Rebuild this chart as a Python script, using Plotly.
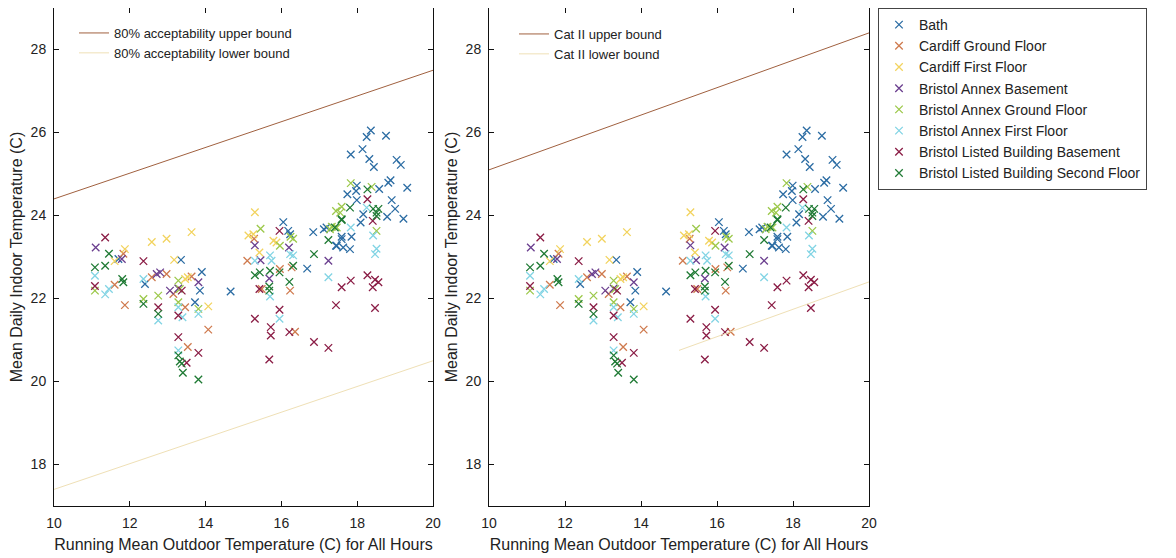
import plotly.graph_objects as go

# ---------------- data ----------------
series_names = [
    "Bath", "Cardiff Ground Floor", "Cardiff First Floor", "Bristol Annex Basement",
    "Bristol Annex Ground Floor", "Bristol Annex First Floor",
    "Bristol Listed Building Basement", "Bristol Listed Building Second Floor",
]
series_colors = ["#2b6ca3", "#cf7a4e", "#f2d35e", "#6b3f8f",
                 "#9cc84a", "#82d4e4", "#8a1c45", "#1f7a34"]

bath_x = [11.7, 13.35, 13.9, 13.85, 12.4, 13.72, 14.66, 16.05, 16.18, 16.23, 16.68, 16.84,
          17.12, 17.19, 17.46, 17.59, 17.63, 18.36, 18.25, 18.76, 18.14, 17.83, 18.32, 18.44,
          19.04, 19.15, 18.88, 18.82, 19.32, 18.58, 17.99, 17.74, 17.97, 17.99, 18.91, 19.0,
          18.16, 18.79, 19.22, 18.09, 17.59, 17.85, 17.44, 17.81]
bath_y = [22.95, 22.93, 22.64, 22.19, 22.35, 21.91, 22.17, 23.84, 23.63, 23.55, 22.72, 23.6,
          23.67, 23.71, 23.27, 23.43, 23.23, 26.05, 25.89, 25.92, 25.6, 25.47, 25.36, 25.17,
          25.34, 25.22, 24.85, 24.79, 24.67, 24.64, 24.72, 24.51, 24.59, 24.37, 24.37, 24.16,
          24.03, 23.97, 23.92, 23.83, 23.49, 23.49, 23.27, 23.19]

cardiff_gf_x = [11.83, 11.6, 11.87, 12.58, 12.97, 13.15, 13.46, 13.63, 14.07, 13.53,
                15.28, 15.1, 15.96, 16.27, 16.23, 16.36, 15.48]
cardiff_gf_y = [23.08, 22.33, 21.84, 22.51, 22.59, 22.11, 21.79, 22.53, 21.25, 20.83,
                23.44, 22.91, 22.71, 22.75, 22.19, 21.2, 22.23]

cardiff_ff_x = [11.87, 12.58, 12.97, 13.63, 13.17, 13.46, 13.53, 14.07, 15.3, 15.13,
                15.26, 15.79, 15.87, 15.42, 11.6]
cardiff_ff_y = [23.19, 23.36, 23.44, 23.6, 22.93, 22.47, 22.51, 21.81, 24.08, 23.52,
                23.55, 23.39, 23.35, 23.11, 22.9]

annex_b_x = [11.1, 11.79, 12.8, 13.06, 13.28, 13.81, 15.3, 15.45, 15.68, 16.2, 17.24, 12.71]
annex_b_y = [23.23, 22.95, 22.63, 22.19, 22.24, 22.39, 23.28, 22.92, 22.48, 23.23, 22.91, 22.59]

annex_gf_x = [11.08, 12.36, 12.75, 13.28, 13.32, 13.28, 13.81, 15.45, 15.96, 16.24, 16.31,
              17.28, 17.46, 17.55, 17.83, 18.38, 17.59, 17.44, 17.33, 18.51]
annex_gf_y = [22.19, 21.99, 22.07, 22.43, 22.23, 21.91, 21.75, 23.68, 23.27, 23.49, 23.44,
              23.67, 23.71, 24.07, 24.78, 24.69, 24.21, 24.11, 23.73, 23.63]

annex_ff_x = [11.08, 11.35, 11.45, 12.36, 12.75, 13.28, 13.39, 13.81, 13.28, 15.7, 15.74,
              16.23, 16.31, 15.3, 15.7, 15.95, 17.24, 18.25, 17.83, 18.42, 18.51, 18.47]
annex_ff_y = [22.55, 22.1, 22.23, 22.47, 21.47, 21.79, 21.55, 21.63, 20.75, 23.04, 22.91,
              23.07, 23.04, 22.91, 22.05, 21.51, 22.51, 24.19, 23.71, 23.52, 23.2, 23.07]

listed_b_x = [11.35, 11.08, 12.36, 12.75, 13.28, 13.37, 13.28, 13.81, 13.5, 15.95, 15.95,
              15.3, 15.72, 15.72, 16.21, 16.86, 17.24, 15.68, 17.44, 17.59, 18.27, 18.41,
              18.27, 17.83, 18.47, 18.56, 18.41, 18.47, 15.42]
listed_b_y = [23.47, 22.3, 22.9, 21.79, 21.59, 22.19, 21.07, 20.69, 20.45, 23.63, 21.73,
              21.51, 21.31, 21.11, 21.19, 20.95, 20.81, 20.53, 21.84, 22.27, 24.39, 23.87,
              22.56, 22.43, 22.45, 22.39, 22.27, 21.77, 22.23]

listed_sf_x = [11.45, 11.08, 11.35, 11.83, 11.8, 12.36, 12.75, 13.28, 13.32, 13.37, 13.4,
               13.81, 15.3, 15.43, 15.7, 15.95, 16.31, 16.21, 15.68, 15.68, 16.86, 17.24,
               17.59, 17.81, 18.27, 18.42, 18.56, 18.51, 18.51, 17.59, 17.41]
listed_sf_y = [23.08, 22.75, 22.79, 22.39, 22.47, 21.87, 21.63, 20.63, 20.48, 20.43, 20.21,
               20.05, 22.56, 22.63, 22.67, 22.63, 22.79, 22.4, 22.29, 22.19, 23.07, 23.41,
               23.89, 24.19, 24.63, 24.16, 24.16, 24.07, 23.99, 23.91, 23.71]

series_x = [bath_x, cardiff_gf_x, cardiff_ff_x, annex_b_x, annex_gf_x, annex_ff_x,
            listed_b_x, listed_sf_x]
series_y = [bath_y, cardiff_gf_y, cardiff_ff_y, annex_b_y, annex_gf_y, annex_ff_y,
            listed_b_y, listed_sf_y]

# comfort bounds (end points)
acc80_x = [10, 20]
acc80_upper = [24.4, 27.5]
acc80_lower = [17.4, 20.5]
cat2_upper_x = [10, 20]
cat2_upper = [25.1, 28.4]
cat2_lower_x = [15, 20]
cat2_lower = [20.75, 22.4]

x_title = "Running Mean Outdoor Temperature (C) for All Hours"
y_title = "Mean Daily Indoor Temperature (C)"

# ---------------- figure ----------------
W, H = 1176, 558
OFF = 8  # page body offset of the rendered figure
FONT = "Liberation Sans, Arial, sans-serif"
upper_col = "#a0603f"
lower_col = "#efe0b6"

fig = go.Figure()

for i, (name, col) in enumerate(zip(series_names, series_colors)):
    for panel, (xa, ya) in enumerate([("x", "y"), ("x2", "y2")]):
        fig.add_trace(go.Scatter(
            x=series_x[i], y=series_y[i], mode="markers", name=name,
            xaxis=xa, yaxis=ya, legend="legend", showlegend=(panel == 0),
            marker=dict(symbol="x-thin", size=7.5, color=col, line=dict(color=col, width=1.3)),
        ))

fig.add_trace(go.Scatter(x=acc80_x, y=acc80_upper, mode="lines", name="80% acceptability upper bound",
                         xaxis="x", yaxis="y", legend="legend2", line=dict(color=upper_col, width=1)))
fig.add_trace(go.Scatter(x=acc80_x, y=acc80_lower, mode="lines", name="80% acceptability lower bound",
                         xaxis="x", yaxis="y", legend="legend2", line=dict(color=lower_col, width=1)))
fig.add_trace(go.Scatter(x=cat2_upper_x, y=cat2_upper, mode="lines", name="Cat II upper bound",
                         xaxis="x2", yaxis="y2", legend="legend3", line=dict(color=upper_col, width=1)))
fig.add_trace(go.Scatter(x=cat2_lower_x, y=cat2_lower, mode="lines", name="Cat II lower bound",
                         xaxis="x2", yaxis="y2", legend="legend3", line=dict(color=lower_col, width=1)))

def px_x(p):
    return min(1.0, max(0.0, (p - OFF) / W))

def px_y(p):
    return min(1.0, max(0.0, 1 - (p - OFF) / H))

axis_common = dict(showgrid=False, zeroline=False, showline=True, linecolor="#111", linewidth=1,
                   mirror="ticks", ticks="inside", ticklen=5, tickcolor="#111", automargin=False,
                   tickfont=dict(family=FONT, size=14, color="#222"))

fig.update_layout(
    width=W, height=H,
    margin=dict(l=0, r=0, t=0, b=0, pad=0, autoexpand=False),
    paper_bgcolor="white", plot_bgcolor="white",
    font=dict(family=FONT, size=14, color="#222"),
    xaxis=dict(domain=[px_x(54), px_x(433)], range=[10, 20], dtick=2, anchor="y",
               title=dict(text=x_title, standoff=9, font=dict(size=16)), ticklabelstandoff=4,
               **axis_common),
    yaxis=dict(domain=[px_y(506), px_y(8)], range=[17, 29], tickvals=[18, 20, 22, 24, 26, 28],
               anchor="x", title=dict(text=y_title, standoff=4, font=dict(size=16)),
               ticklabelstandoff=4, **axis_common),
    xaxis2=dict(domain=[px_x(489), px_x(869)], range=[10, 20], dtick=2, anchor="y2",
                title=dict(text=x_title, standoff=9, font=dict(size=16)), ticklabelstandoff=4,
                **axis_common),
    yaxis2=dict(domain=[px_y(506), px_y(8)], range=[17, 29], tickvals=[18, 20, 22, 24, 26, 28],
                anchor="x2", title=dict(text=y_title, standoff=4, font=dict(size=16)),
                ticklabelstandoff=4, **axis_common),
    legend=dict(x=px_x(878), y=px_y(8), xanchor="left", yanchor="top",
                bordercolor="#444", borderwidth=1, bgcolor="white",
                font=dict(family=FONT, size=14, color="#222"), tracegroupgap=0,
                itemwidth=30),
    legend2=dict(x=px_x(74), y=px_y(18), xanchor="left", yanchor="top",
                 bgcolor="rgba(0,0,0,0)", borderwidth=0,
                 font=dict(family=FONT, size=13, color="#222")),
    legend3=dict(x=px_x(514), y=px_y(19), xanchor="left", yanchor="top",
                 bgcolor="rgba(0,0,0,0)", borderwidth=0,
                 font=dict(family=FONT, size=13, color="#222")),
)

fig.write_html("out.html")
